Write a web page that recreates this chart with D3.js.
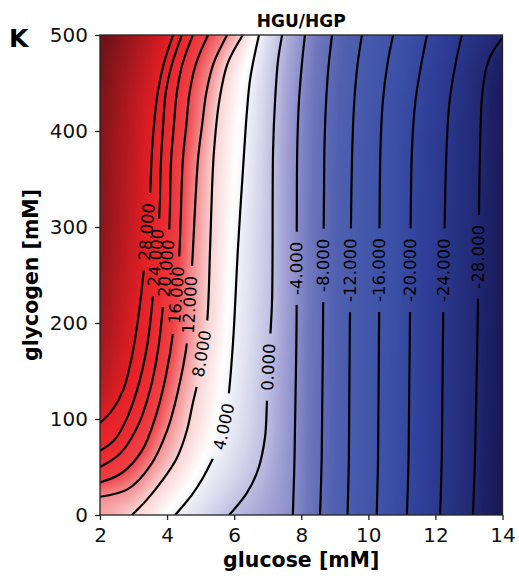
<!DOCTYPE html>
<html>
<head>
<meta charset="utf-8">
<script src="https://cdn.jsdelivr.net/npm/d3@7"></script>
<style>
  body { margin: 0; background: #fff; }
  svg { display: block; font-family: "DejaVu Sans", sans-serif; }
</style>
</head>
<body>
<svg id="chart" width="519" height="578"></svg>
<script>
// Contour levels of HGU/HGP, highest first
const levels = [28, 24, 20, 16, 12, 8, 4, 0, -4, -8, -12, -16, -20, -24, -28];

// Each contour as [glucose mM, glycogen mM], ordered by rising glycogen
const line28 = [[2.00,96],[2.36,109],[2.69,130],[2.95,165],[3.13,203],[3.31,257],[3.40,295],[3.49,333],[3.55,380],[3.62,410],[3.72,440],[3.90,470],[4.18,500]];
const line24 = [[2.00,67],[2.45,79],[2.83,103],[3.19,141],[3.43,182],[3.58,229],[3.67,268],[3.76,307],[3.82,370],[3.88,405],[3.96,440],[4.15,470],[4.44,500]];
const line20 = [[2.00,50],[2.60,64],[3.13,93],[3.49,130],[3.73,172],[3.88,219],[4.06,295],[4.12,370],[4.20,405],[4.29,440],[4.46,470],[4.77,500]];
const line16 = [[2.00,34],[2.66,44],[3.25,67],[3.67,104],[3.97,146],[4.18,191],[4.36,269],[4.47,370],[4.57,405],[4.67,440],[4.86,470],[5.22,500]];
const line12 = [[2.00,19],[2.83,27],[3.49,51],[4.00,88],[4.33,130],[4.59,179],[4.74,257],[4.92,370],[5.04,405],[5.17,440],[5.38,470],[5.79,500]];
const line8  = [[2.95,0],[3.40,16],[3.88,37],[4.30,60],[4.59,88],[4.77,117],[4.89,135],[5.04,168],[5.19,200],[5.28,276],[5.34,340],[5.40,380],[5.55,430],[5.80,470],[6.26,500]];
const line4  = [[4.24,0],[4.74,21],[5.04,37],[5.34,57],[5.64,83],[5.82,120],[5.97,182],[6.11,276],[6.30,380],[6.38,420],[6.48,455],[6.74,500]];
const line0  = [[5.85,0],[6.38,23],[6.71,47],[6.92,81],[6.98,120],[7.07,182],[7.13,224],[7.16,380],[7.22,432],[7.31,474],[7.43,500]];
const lineM4  = [[7.75,0],[7.80,60],[7.86,200],[7.88,380],[7.93,430],[8.02,470],[8.11,500]];
const lineM8  = [[8.56,0],[8.61,60],[8.65,200],[8.69,380],[8.74,430],[8.82,470],[8.92,500]];
const lineM12 = [[9.38,0],[9.42,60],[9.45,200],[9.52,380],[9.58,430],[9.68,470],[9.81,500]];
const lineM16 = [[10.25,0],[10.29,60],[10.32,200],[10.36,380],[10.43,430],[10.57,470],[10.74,500]];
const lineM20 = [[11.15,0],[11.20,60],[11.24,200],[11.30,380],[11.40,430],[11.58,470],[11.75,500]];
const lineM24 = [[12.14,0],[12.19,60],[12.23,200],[12.33,380],[12.42,430],[12.60,470],[12.79,500]];
const lineM28 = [[13.12,0],[13.18,60],[13.26,200],[13.33,380],[13.40,440],[13.55,470],[13.75,485],[14.00,497]];

// Glycogen value at which each contour carries its inline label
const labelGlycogen = [295, 268, 257, 229, 219, 168, 92, 154, 257, 260, 255, 255, 255, 255, 269];

const xTicks = [2, 4, 6, 8, 10, 12, 14];
const yTicks = [0, 100, 200, 300, 400, 500];

const contourLines = [line28, line24, line20, line16, line12, line8, line4, line0,
  lineM4, lineM8, lineM12, lineM16, lineM20, lineM24, lineM28]
  .map((pts, i) => ({ level: levels[i], points: pts, labelAt: labelGlycogen[i] }));

const svg = d3.select("#chart");
const x = d3.scaleLinear().domain([2, 14]).range([100, 502.5]);
const y = d3.scaleLinear().domain([0, 500]).range([515, 35]);
const x0 = x(2), x1 = x(14), y0 = y(500), y1 = y(0);

// Diverging palette: dark red (high) -> white -> navy (low)
const color = d3.scaleLinear()
  .domain([-36, -30, -26, -22, -18, -14, -10, -6, -2, 2, 5, 8, 12, 16, 22, 28, 34, 41, 57, 75])
  .range(["#14154a", "#1d2066", "#25307f", "#2f3e98", "#3a4fa6", "#4458ab", "#5060b0", "#6f77bd", "#a3a3d6", "#dadaee",
          "#ffffff", "#fad2d2", "#f48c8e", "#ef4348", "#ec2a30", "#e42026", "#d61d23", "#c31b21", "#9b171d", "#701318"])
  .interpolate(d3.interpolateRgb)
  .clamp(true);

const defs = svg.append("defs");
defs.append("clipPath").attr("id", "plotClip")
  .append("rect").attr("x", x0).attr("y", y0).attr("width", x1 - x0).attr("height", y1 - y0);

const lineGen = d3.line()
  .x(d => x(d[0])).y(d => y(d[1]))
  .curve(d3.curveCatmullRom.alpha(0.5));

const heatLayer = svg.append("g").attr("clip-path", "url(#plotClip)");
const mask = defs.append("mask").attr("id", "labelGaps").attr("maskUnits", "userSpaceOnUse");
mask.append("rect").attr("x", 0).attr("y", 0).attr("width", 519).attr("height", 578).attr("fill", "#fff");

const lineLayer = svg.append("g").attr("clip-path", "url(#plotClip)");
const linesG = lineLayer.append("g").attr("mask", "url(#labelGaps)");
const paths = linesG.selectAll("path").data(contourLines).join("path")
  .attr("d", d => lineGen(d.points))
  .attr("fill", "none")
  .attr("stroke", "#000")
  .attr("stroke-width", 2.2);

// Dense polylines along each drawn contour
const SEG = 5;
paths.each(function (d) {
  const len = this.getTotalLength();
  const n = Math.max(2, Math.ceil(len / SEG));
  const pts = [];
  for (let i = 0; i <= n; i++) {
    const p = this.getPointAtLength(len * i / n);
    pts.push([p.x, p.y]);
  }
  d.poly = pts;
});

// Field built from the contour geometry: interpolate between neighbouring levels by distance
function segDist(px, py, ax, ay, bx, by) {
  const dx = bx - ax, dy = by - ay;
  const l2 = dx * dx + dy * dy;
  let t = l2 > 0 ? ((px - ax) * dx + (py - ay) * dy) / l2 : 0;
  t = t < 0 ? 0 : t > 1 ? 1 : t;
  const ex = ax + t * dx - px, ey = ay + t * dy - py;
  return ex * ex + ey * ey;
}
function lineInfo(poly, px, py) {
  let best = Infinity;
  for (let i = 0; i < poly.length - 1; i++) {
    const d = segDist(px, py, poly[i][0], poly[i][1], poly[i + 1][0], poly[i + 1][1]);
    if (d < best) best = d;
  }
  // side: true when the point lies on the higher-valued (upper-left) side
  const yStart = poly[0][1], yEnd = poly[poly.length - 1][1];
  let high;
  if (py > yStart) high = false;
  else if (py < yEnd) high = true;
  else {
    high = px < poly[poly.length - 1][0];
    for (let i = 0; i < poly.length - 1; i++) {
      const a = poly[i], b = poly[i + 1];
      if ((py <= a[1] && py >= b[1]) || (py >= a[1] && py <= b[1])) {
        const t = a[1] === b[1] ? 0 : (py - a[1]) / (b[1] - a[1]);
        high = px < a[0] + t * (b[0] - a[0]);
        break;
      }
    }
  }
  return [Math.sqrt(best), high];
}

const STEP = 2;
const cols = Math.ceil((x1 - x0) / STEP), rows = Math.ceil((y1 - y0) / STEP);
const canvas = document.createElement("canvas");
canvas.width = cols; canvas.height = rows;
const ctx = canvas.getContext("2d");
const img = ctx.createImageData(cols, rows);
const nL = contourLines.length;
const dist = new Float64Array(nL), side = new Array(nL);
for (let r = 0; r < rows; r++) {
  const py = y0 + (r + 0.5) * STEP;
  for (let c = 0; c < cols; c++) {
    const px = x0 + (c + 0.5) * STEP;
    for (let k = 0; k < nL; k++) {
      const info = lineInfo(contourLines[k].poly, px, py);
      dist[k] = info[0]; side[k] = info[1];
    }
    let a = -1, b = -1;
    for (let k = 0; k < nL; k++) { if (side[k]) { a = k; break; } }
    for (let k = nL - 1; k >= 0; k--) { if (!side[k]) { b = k; break; } }
    let v;
    if (b < 0) v = levels[0] + dist[0] * 0.75;
    else if (a < 0) v = levels[nL - 1] - dist[nL - 1] / 5;
    else v = levels[a] + (levels[b] - levels[a]) * dist[a] / (dist[a] + dist[b] + 1e-9);
    const col = d3.rgb(color(v));
    const o = (r * cols + c) * 4;
    img.data[o] = col.r; img.data[o + 1] = col.g; img.data[o + 2] = col.b; img.data[o + 3] = 255;
  }
}
ctx.putImageData(img, 0, 0);
heatLayer.append("image")
  .attr("x", x0).attr("y", y0)
  .attr("width", cols * STEP).attr("height", rows * STEP)
  .attr("preserveAspectRatio", "none")
  .attr("href", canvas.toDataURL());

// Inline contour labels with gaps cut out of the lines
const labelG = svg.append("g").attr("clip-path", "url(#plotClip)");
const LABEL_FS = 16.5;
contourLines.forEach(d => {
  const ty = y(d.labelAt);
  const poly = d.poly;
  let idx = 0;
  for (let i = 0; i < poly.length - 1; i++) {
    if ((ty <= poly[i][1] && ty >= poly[i + 1][1])) { idx = i; break; }
  }
  const a = poly[idx], b = poly[idx + 1];
  const t = a[1] === b[1] ? 0 : (ty - a[1]) / (b[1] - a[1]);
  const cx = a[0] + t * (b[0] - a[0]);
  const pa = poly[Math.max(0, idx - 2)], pb = poly[Math.min(poly.length - 1, idx + 3)];
  let ang = Math.atan2(pb[1] - pa[1], pb[0] - pa[0]) * 180 / Math.PI;
  if (ang > 90) ang -= 180;
  if (ang < -90) ang += 180;
  const txt = d.level.toFixed(3);
  const t2 = labelG.append("text")
    .attr("transform", `translate(${cx},${ty}) rotate(${ang})`)
    .attr("text-anchor", "middle")
    .attr("dominant-baseline", "central")
    .attr("font-size", LABEL_FS)
    .attr("fill", "#000")
    .text(txt);
  const wTxt = t2.node().getComputedTextLength();
  mask.append("rect")
    .attr("x", -wTxt / 2 - 10).attr("y", -LABEL_FS * 0.55)
    .attr("width", wTxt + 20).attr("height", LABEL_FS * 1.1)
    .attr("transform", `translate(${cx},${ty}) rotate(${ang})`)
    .attr("fill", "#000");
});

// Axes
const xAxis = svg.append("g").attr("transform", `translate(0,${y1})`)
  .call(d3.axisBottom(x).tickValues(xTicks).tickFormat(d3.format("d")).tickSize(5).tickPadding(8));
const yAxis = svg.append("g").attr("transform", `translate(${x0},0)`)
  .call(d3.axisLeft(y).tickValues(yTicks).tickFormat(d3.format("d")).tickSize(5).tickPadding(7));
[xAxis, yAxis].forEach(g => {
  g.select(".domain").remove();
  g.selectAll("line").attr("stroke", "#222").attr("stroke-width", 1.3);
  g.selectAll("text").attr("font-size", 20).attr("fill", "#111").attr("font-family", "DejaVu Sans, sans-serif");
});

svg.append("rect")
  .attr("x", x0).attr("y", y0).attr("width", x1 - x0).attr("height", y1 - y0)
  .attr("fill", "none").attr("stroke", "#222").attr("stroke-width", 1.3);

svg.append("text").attr("x", (x0 + x1) / 2).attr("y", 567)
  .attr("text-anchor", "middle").attr("font-size", 20.5).attr("font-weight", "bold")
  .text("glucose [mM]");
svg.append("text").attr("transform", `translate(38,${(y0 + y1) / 2}) rotate(-90)`)
  .attr("text-anchor", "middle").attr("font-size", 20.5).attr("font-weight", "bold")
  .text("glycogen [mM]");
svg.append("text").attr("x", (x0 + x1) / 2).attr("y", 27)
  .attr("text-anchor", "middle").attr("font-size", 17).attr("font-weight", "bold")
  .text("HGU/HGP");
svg.append("text").attr("x", 9).attr("y", 47)
  .attr("font-size", 25).attr("font-weight", "bold")
  .text("K");
</script>
</body>
</html>
